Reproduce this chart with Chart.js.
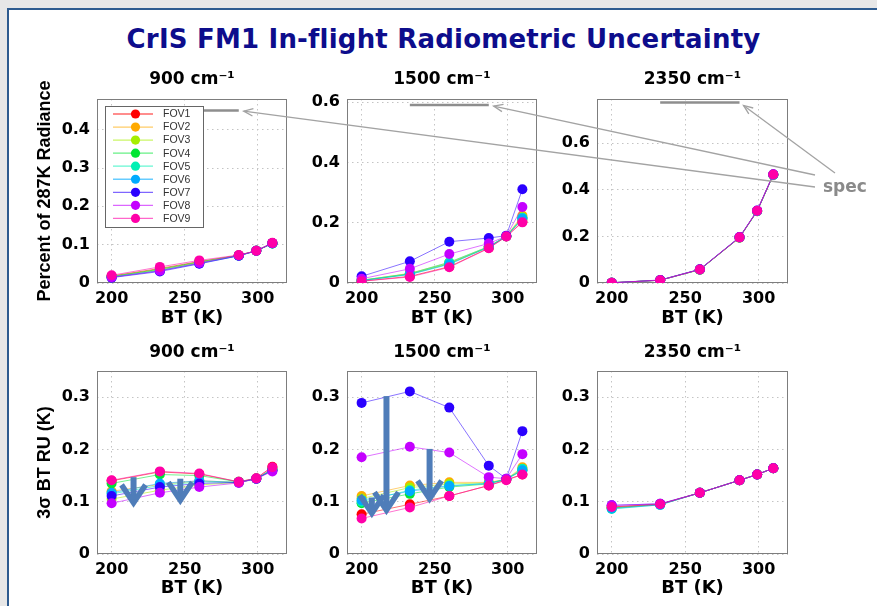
<!DOCTYPE html>
<html>
<head>
<meta charset="utf-8">
<title>CrIS FM1 In-flight Radiometric Uncertainty</title>
<script src="https://cdn.jsdelivr.net/npm/chart.js@4.4.0/dist/chart.umd.min.js"></script>
<style>
  html, body { margin: 0; padding: 0; }
  body { width: 877px; height: 606px; overflow: hidden; background: #e7e7e7; position: relative; }
  #frame { position: absolute; left: 7px; top: 8px; right: 0; bottom: 0; background: #fff;
           border-left: 2px solid #2e5b8f; border-top: 2px solid #2e5b8f; }
  #title { position: absolute; left: 0; top: 24px; width: 887px; text-align: center; line-height: 30px;
           font: bold 26px "DejaVu Sans", sans-serif; letter-spacing: 0.2px; color: #0d0d8c; white-space: nowrap; }
  canvas { position: absolute; }
</style>
</head>
<body>
<div id="frame"></div>
<div id="title">CrIS FM1 In-flight Radiometric Uncertainty</div>
<canvas id="notes" width="877" height="606" style="left:0;top:0;z-index:5;pointer-events:none"></canvas>

<script>
// brightness temperatures of the scene points
const btValues = [200, 233, 260, 287, 299, 310];
const fovNames = ["FOV1", "FOV2", "FOV3", "FOV4", "FOV5", "FOV6", "FOV7", "FOV8", "FOV9"];
const fovColors = ["#ff0000", "#ffaa00", "#a6ee00", "#00e633", "#00f0b4", "#00aaff", "#2a00ff", "#c400ff", "#ff00a8"];

// percent of 287K radiance (top row), one row per FOV
const rad900 = [
  [0.018, 0.038, 0.056, 0.072, 0.084, 0.104],
  [0.017, 0.036, 0.054, 0.072, 0.084, 0.103],
  [0.016, 0.034, 0.053, 0.072, 0.084, 0.103],
  [0.017, 0.036, 0.055, 0.072, 0.084, 0.104],
  [0.016, 0.033, 0.052, 0.071, 0.084, 0.103],
  [0.015, 0.032, 0.051, 0.071, 0.084, 0.103],
  [0.014, 0.030, 0.050, 0.071, 0.084, 0.104],
  [0.015, 0.032, 0.052, 0.072, 0.084, 0.104],
  [0.020, 0.042, 0.059, 0.073, 0.084, 0.105]
];
const rad1500 = [
  [0.006, 0.022, 0.054, 0.116, 0.154, 0.203],
  [0.009, 0.032, 0.068, 0.121, 0.155, 0.224],
  [0.009, 0.031, 0.066, 0.120, 0.155, 0.218],
  [0.008, 0.029, 0.064, 0.119, 0.155, 0.212],
  [0.009, 0.031, 0.069, 0.121, 0.155, 0.216],
  [0.008, 0.028, 0.062, 0.119, 0.155, 0.214],
  [0.022, 0.072, 0.137, 0.149, 0.157, 0.311],
  [0.014, 0.047, 0.096, 0.131, 0.155, 0.252],
  [0.006, 0.020, 0.052, 0.115, 0.154, 0.201]
];
const rad2350 = [
  [0.001, 0.012, 0.058, 0.195, 0.309, 0.465],
  [0.001, 0.012, 0.057, 0.194, 0.308, 0.464],
  [0.001, 0.012, 0.058, 0.195, 0.309, 0.465],
  [0.001, 0.012, 0.057, 0.195, 0.308, 0.464],
  [0.001, 0.012, 0.058, 0.196, 0.309, 0.465],
  [0.001, 0.012, 0.058, 0.195, 0.309, 0.465],
  [0.001, 0.013, 0.059, 0.197, 0.311, 0.467],
  [0.001, 0.012, 0.058, 0.196, 0.310, 0.466],
  [0.001, 0.012, 0.058, 0.196, 0.310, 0.466]
];

// 3 sigma BT radiometric uncertainty in K (bottom row)
const ru900 = [
  [0.140, 0.157, 0.153, 0.138, 0.145, 0.167],
  [0.120, 0.133, 0.140, 0.137, 0.144, 0.162],
  [0.105, 0.122, 0.132, 0.137, 0.144, 0.160],
  [0.135, 0.152, 0.150, 0.138, 0.144, 0.163],
  [0.115, 0.131, 0.138, 0.137, 0.144, 0.161],
  [0.117, 0.135, 0.140, 0.137, 0.144, 0.160],
  [0.111, 0.128, 0.135, 0.137, 0.144, 0.160],
  [0.097, 0.117, 0.128, 0.136, 0.144, 0.158],
  [0.141, 0.158, 0.154, 0.138, 0.145, 0.166]
];
const ru1500 = [
  [0.076, 0.095, 0.111, 0.131, 0.142, 0.152],
  [0.111, 0.131, 0.137, 0.137, 0.143, 0.166],
  [0.106, 0.127, 0.134, 0.136, 0.143, 0.162],
  [0.097, 0.115, 0.128, 0.134, 0.143, 0.160],
  [0.100, 0.122, 0.131, 0.135, 0.143, 0.163],
  [0.103, 0.120, 0.130, 0.135, 0.143, 0.160],
  [0.289, 0.311, 0.280, 0.169, 0.144, 0.235],
  [0.185, 0.205, 0.194, 0.147, 0.144, 0.191],
  [0.068, 0.089, 0.111, 0.131, 0.141, 0.152]
];
const ru2350 = [
  [0.090, 0.095, 0.117, 0.141, 0.152, 0.164],
  [0.089, 0.095, 0.117, 0.141, 0.152, 0.164],
  [0.088, 0.095, 0.117, 0.141, 0.152, 0.164],
  [0.088, 0.095, 0.117, 0.141, 0.152, 0.164],
  [0.086, 0.094, 0.117, 0.141, 0.152, 0.164],
  [0.087, 0.094, 0.117, 0.141, 0.152, 0.164],
  [0.093, 0.096, 0.117, 0.141, 0.152, 0.164],
  [0.093, 0.096, 0.117, 0.141, 0.152, 0.164],
  [0.090, 0.095, 0.117, 0.141, 0.152, 0.164]
];

// spec levels (top row) and the BT span they are drawn over
const specBT = [233, 287];
const specValues = [0.45, 0.59, 0.775];

// tick labels
const panelTitles = ["900 cm\u207B\u00B9", "1500 cm\u207B\u00B9", "2350 cm\u207B\u00B9"];
const xTicks = [200, 250, 300];
const radTicks = [[0, 0.1, 0.2, 0.3, 0.4], [0, 0.2, 0.4, 0.6], [0, 0.2, 0.4, 0.6]];
const ruTicks = [0, 0.1, 0.2, 0.3];
const radMax = [0.48, 0.61, 0.79];
const ruMax = 0.35;

// blue "drop" arrows on bottom panels: [BT, from, to]
const drops900 = [[215, 0.147, 0.094], [247, 0.144, 0.099]];
const drops1500 = [[217, 0.302, 0.080], [207, 0.108, 0.074], [246.5, 0.201, 0.102]];

// where each panel sits on the page
const cells = [
  { left: 10,  top: 56,  width: 285, height: 280, area: { left: 97,  top: 99,  right: 287, bottom: 283 }, titleY: 80 },
  { left: 297, top: 56,  width: 248, height: 280, area: { left: 347, top: 99,  right: 537, bottom: 283 }, titleY: 80 },
  { left: 547, top: 56,  width: 253, height: 280, area: { left: 597, top: 99,  right: 788, bottom: 283 }, titleY: 80 },
  { left: 10,  top: 328, width: 285, height: 278, area: { left: 97,  top: 371, right: 287, bottom: 554 }, titleY: 353 },
  { left: 297, top: 328, width: 248, height: 278, area: { left: 347, top: 371, right: 537, bottom: 554 }, titleY: 353 },
  { left: 547, top: 328, width: 253, height: 278, area: { left: 597, top: 371, right: 788, bottom: 554 }, titleY: 353 }
];

const tickFont = { family: "'DejaVu Sans', sans-serif", size: 16, weight: "bold" };
const titleFont = { family: "'DejaVu Sans', sans-serif", size: 17, weight: "bold", lineHeight: 1.2 };

function fade(hex, a) {
  let n = parseInt(hex.slice(1), 16);
  return "rgba(" + (n >> 16) + "," + ((n >> 8) & 255) + "," + (n & 255) + "," + a + ")";
}

function makeDatasets(rows, specY) {
  let sets = rows.map((row, i) => ({
    label: fovNames[i],
    data: row.map((y, j) => ({ x: btValues[j], y: y })),
    borderColor: fade(fovColors[i], 0.55),
    backgroundColor: fovColors[i],
    pointBackgroundColor: fovColors[i],
    pointBorderColor: fovColors[i],
    pointBorderWidth: 0,
    pointRadius: 5,
    borderWidth: 1,
    tension: 0,
    order: 9 - i // FOV9 ends up on top, like the matlab plot
  }));
  if (specY !== undefined) {
    sets.push({
      label: "spec",
      data: specBT.map(x => ({ x: x, y: specY })),
      borderColor: "#8e8e8e",
      borderWidth: 2.5,
      pointRadius: 0,
      order: 20
    });
  }
  return sets;
}

// grey box round the plot area
const boxPlugin = {
  id: "plotBox",
  beforeDatasetsDraw(chart) {
    let a = chart.chartArea, ctx = chart.ctx;
    ctx.save();
    ctx.strokeStyle = "#7d7d7d";
    ctx.lineWidth = 1;
    ctx.strokeRect(Math.round(a.left) + 0.5, Math.round(a.top) + 0.5,
                   Math.round(a.right - a.left) - 1, Math.round(a.bottom - a.top) - 1);
    ctx.restore();
  }
};

// matlab-style legend inside the first panel
const legendPlugin = {
  id: "fovLegend",
  afterDraw(chart) {
    let a = chart.chartArea, ctx = chart.ctx;
    let bx = Math.round(a.left) + 8, by = Math.round(a.top) + 7;
    ctx.save();
    ctx.fillStyle = "#fff";
    ctx.fillRect(bx, by, 98, 121);
    ctx.strokeStyle = "#666";
    ctx.lineWidth = 1;
    ctx.strokeRect(bx + 0.5, by + 0.5, 98, 121);
    ctx.font = "10.5px 'Liberation Sans', Arial, sans-serif";
    ctx.textBaseline = "middle";
    fovNames.forEach((name, i) => {
      let y = by + 8 + i * 13.05;
      ctx.strokeStyle = fade(fovColors[i], 0.6);
      ctx.lineWidth = 1.3;
      ctx.beginPath();
      ctx.moveTo(bx + 8, y);
      ctx.lineTo(bx + 48, y);
      ctx.stroke();
      ctx.fillStyle = fovColors[i];
      ctx.beginPath();
      ctx.arc(bx + 30.5, y, 4.6, 0, Math.PI * 2);
      ctx.fill();
      ctx.fillStyle = "#333";
      ctx.fillText(name, bx + 58, y + 0.5);
    });
    ctx.restore();
  }
};

function drawDrop(ctx, x, yTop, yTip) {
  ctx.save();
  ctx.strokeStyle = "#4f7db9";
  if (yTip - 6 > yTop) {
    ctx.lineWidth = 6;
    ctx.beginPath();
    ctx.moveTo(x, yTop);
    ctx.lineTo(x, yTip - 6);
    ctx.stroke();
  }
  ctx.lineWidth = 5.5;
  ctx.lineJoin = "miter";
  ctx.beginPath();
  ctx.moveTo(x - 12, yTip - 20);
  ctx.lineTo(x, yTip - 2);
  ctx.lineTo(x + 12, yTip - 20);
  ctx.stroke();
  ctx.restore();
}

function dropPlugin(drops) {
  return {
    id: "drops",
    afterDatasetsDraw(chart) {
      let xs = chart.scales.x, ys = chart.scales.y;
      drops.forEach(d => {
        drawDrop(chart.ctx, xs.getPixelForValue(d[0]), ys.getPixelForValue(d[1]), ys.getPixelForValue(d[2]));
      });
    }
  };
}

function createPanel(idx, rows, yMax, yTicks, yTitle, specY, extra) {
  let cell = cells[idx];
  let canvas = document.createElement("canvas");
  canvas.width = cell.width;
  canvas.height = cell.height;
  canvas.style.left = cell.left + "px";
  canvas.style.top = cell.top + "px";
  document.body.appendChild(canvas);

  let yWidth = cell.area.left - cell.left;
  let xHeight = cell.top + cell.height - cell.area.bottom;
  let titleLine = titleFont.size * titleFont.lineHeight;
  let titleTop = cell.titleY - cell.top - titleLine / 2;
  let titleBottom = (cell.area.top - cell.top) - titleLine - titleTop;

  let plugins = [boxPlugin];
  if (extra) plugins = plugins.concat(extra);

  return new Chart(canvas.getContext("2d"), {
    type: "line",
    data: { datasets: makeDatasets(rows, specY) },
    plugins: plugins,
    options: {
      responsive: false,
      animation: false,
      devicePixelRatio: 1,
      layout: { padding: { left: 0, top: 0, bottom: 0, right: cell.left + cell.width - cell.area.right } },
      plugins: {
        legend: { display: false },
        tooltip: { enabled: false },
        title: {
          display: true,
          fullSize: false,
          text: panelTitles[idx % 3],
          color: "#000",
          font: titleFont,
          padding: { top: titleTop, bottom: titleBottom }
        }
      },
      scales: {
        x: {
          type: "linear",
          min: 190,
          max: 320,
          afterBuildTicks: s => { s.ticks = xTicks.map(v => ({ value: v })); },
          afterFit: s => { s.height = xHeight; },
          grid: { color: "#c4c4c4", drawTicks: false },
          border: { display: false, dash: [1.5, 3.5] },
          ticks: { font: tickFont, color: "#000", padding: 6, maxRotation: 0, autoSkip: false },
          title: {
            display: true,
            text: "BT (K)",
            color: "#000",
            font: { family: "'DejaVu Sans', sans-serif", size: 18, weight: "bold", lineHeight: 1.2 },
            padding: { top: 0, bottom: 7 }
          }
        },
        y: {
          min: 0,
          max: yMax,
          afterBuildTicks: s => { s.ticks = yTicks.map(v => ({ value: v })); },
          afterFit: s => { s.width = yWidth; },
          grid: { color: "#c4c4c4", drawTicks: false },
          border: { display: false, dash: [1.5, 3.5] },
          ticks: { font: tickFont, color: "#000", padding: 7, callback: v => String(v) },
          title: {
            display: !!yTitle,
            text: yTitle || "",
            color: "#000",
            font: { family: "'Liberation Sans', Arial, sans-serif", size: 18, weight: "bold", lineHeight: 1.2 },
            padding: { top: 24, bottom: 0 }
          }
        }
      }
    }
  });
}

// gray "spec" pointers running from the label to the end of each spec bar
function drawSpecNotes(charts) {
  let ctx = document.getElementById("notes").getContext("2d");
  let starts = [[815, 187], [815, 175], [835, 173]];
  ctx.strokeStyle = "#a3a3a3";
  ctx.lineWidth = 1.3;
  charts.forEach((ch, i) => {
    let cell = cells[i];
    let ex = cell.left + ch.scales.x.getPixelForValue(specBT[1]);
    let ey = cell.top + ch.scales.y.getPixelForValue(specValues[i]);
    let sx = starts[i][0], sy = starts[i][1];
    let len = Math.hypot(sx - ex, sy - ey);
    let tx = ex + 5 * (sx - ex) / len, ty = ey + 5 * (sy - ey) / len;
    let ang = Math.atan2(sy - ty, sx - tx);
    ctx.beginPath();
    ctx.moveTo(sx, sy);
    ctx.lineTo(tx, ty);
    ctx.stroke();
    ctx.beginPath();
    ctx.moveTo(tx + 10 * Math.cos(ang + 0.38), ty + 10 * Math.sin(ang + 0.38));
    ctx.lineTo(tx, ty);
    ctx.lineTo(tx + 10 * Math.cos(ang - 0.38), ty + 10 * Math.sin(ang - 0.38));
    ctx.stroke();
  });
  ctx.fillStyle = "#8a8a8a";
  ctx.font = "bold 17px 'DejaVu Sans', sans-serif";
  ctx.textBaseline = "alphabetic";
  ctx.fillText("spec", 823, 192);
}

function setup() {
  let top = [
    createPanel(0, rad900, radMax[0], radTicks[0], "Percent of 287K Radiance", specValues[0], [legendPlugin]),
    createPanel(1, rad1500, radMax[1], radTicks[1], null, specValues[1]),
    createPanel(2, rad2350, radMax[2], radTicks[2], null, specValues[2])
  ];
  createPanel(3, ru900, ruMax, ruTicks, "3\u03C3 BT RU (K)", undefined, [dropPlugin(drops900)]);
  createPanel(4, ru1500, ruMax, ruTicks, null, undefined, [dropPlugin(drops1500)]);
  createPanel(5, ru2350, ruMax, ruTicks, null, undefined);
  drawSpecNotes(top);
}

setup();
</script>
</body>
</html>
